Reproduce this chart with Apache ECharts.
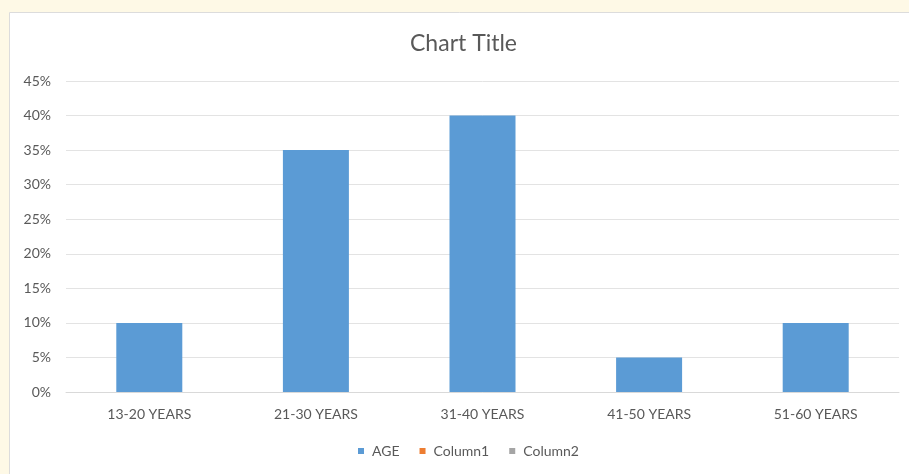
<!DOCTYPE html>
<html>
<head>
<meta charset="utf-8">
<script src="https://cdn.jsdelivr.net/npm/echarts@6/dist/echarts.min.js"></script>
<style>
html,body{margin:0;padding:0;background:#fef9e6;}
#c{width:909px;height:474px;}
</style>
</head>
<body>
<div id="c"></div>
<script>
const categories = ['13-20 YEARS','21-30 YEARS','31-40 YEARS','41-50 YEARS','51-60 YEARS'];
const ageValues = [0.10, 0.35, 0.40, 0.05, 0.10];
const column1Values = [];
const column2Values = [];
const seriesNames = ['AGE','Column1','Column2'];

const chart = echarts.init(document.getElementById('c'), null, {renderer:'canvas'});
const FONT = 'Lato, "Liberation Sans", sans-serif';
chart.setOption({
  backgroundColor: '#fef9e6',
  animation: false,
  graphic: [{
    type: 'rect',
    shape: {x: 9.5, y: 12.5, width: 910, height: 470},
    style: {fill: '#ffffff', stroke: '#dcdcdc', lineWidth: 1},
    z: -10
  }],
  title: {
    text: 'Chart Title',
    left: 405,
    top: 27,
    textStyle: {fontFamily: FONT, fontSize: 23, fontWeight: 'normal', color: '#595959'}
  },
  legend: {
    data: seriesNames,
    bottom: 11,
    left: 353,
    icon: 'rect',
    itemWidth: 6,
    itemHeight: 6,
    itemGap: 20,
    textStyle: {fontFamily: FONT, fontSize: 14, color: '#595959', padding: [0,0,0,3]}
  },
  grid: {left: 66, right: 10, top: 81, bottom: 82, containLabel: false},
  xAxis: {
    type: 'category',
    data: categories,
    axisTick: {show: false},
    axisLine: {lineStyle: {color: '#d9d9d9'}},
    axisLabel: {fontFamily: FONT, fontSize: 14, color: '#595959', margin: 15}
  },
  yAxis: {
    type: 'value',
    min: 0,
    max: 0.45,
    interval: 0.05,
    axisLine: {show: false},
    axisTick: {show: false},
    splitLine: {lineStyle: {color: '#e3e3e3'}},
    axisLabel: {
      fontFamily: FONT, fontSize: 14, color: '#595959', margin: 15,
      formatter: v => Math.round(v*100) + '%'
    }
  },
  series: [
    {name: 'AGE', type: 'bar', stack: 's', data: ageValues, barWidth: 66, itemStyle: {color: '#5b9bd5'}},
    {name: 'Column1', type: 'bar', stack: 's', data: column1Values, itemStyle: {color: '#ed7d31'}},
    {name: 'Column2', type: 'bar', stack: 's', data: column2Values, itemStyle: {color: '#a5a5a5'}}
  ]
});
</script>
</body>
</html>
